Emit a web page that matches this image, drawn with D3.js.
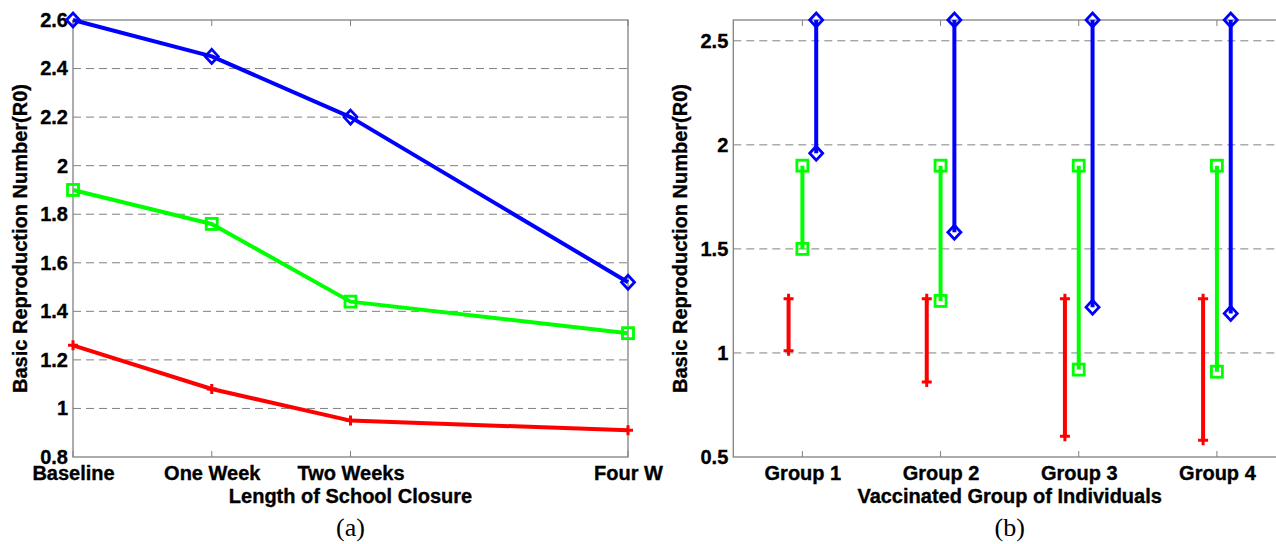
<!DOCTYPE html>
<html>
<head>
<meta charset="utf-8">
<script src="https://cdn.jsdelivr.net/npm/d3@7"></script>
<style>
  html, body { margin: 0; padding: 0; background: #fff; }
  svg { display: block; }
  .tick text, .title { font-family: "Liberation Sans", Arial, sans-serif; font-weight: bold; font-size: 20px; fill: #000; stroke: #000; stroke-width: 0.35px; }
  .caption { font-family: "Liberation Serif", "Times New Roman", serif; font-size: 26px; fill: #000; }
</style>
</head>
<body>
<div class="chart"></div>
<script>
// panel (a): school closure
const closureLabels = ['Baseline', 'One Week', 'Two Weeks', 'Four W']
const closureWeeks = [0, 1, 2, 4]
const closureBlue = [2.6, 2.45, 2.2, 1.52]
const closureGreen = [1.9, 1.76, 1.44, 1.31]
const closureRed = [1.26, 1.08, 0.95, 0.91]
const closureTicks = [0.8, 1, 1.2, 1.4, 1.6, 1.8, 2, 2.2, 2.4, 2.6]

// panel (b): vaccinated groups, ranges low..high
const groups = ['Group 1', 'Group 2', 'Group 3', 'Group 4']
const redHigh = [1.26, 1.26, 1.26, 1.26]
const redLow = [1.01, 0.86, 0.60, 0.58]
const greenHigh = [1.9, 1.9, 1.9, 1.9]
const greenLow = [1.5, 1.25, 0.92, 0.91]
const blueHigh = [2.6, 2.6, 2.6, 2.6]
const blueLow = [1.96, 1.58, 1.22, 1.19]
const groupTicks = [0.5, 1, 1.5, 2, 2.5]

const W = 1276, H = 544
const plotTop = 20, plotBottom = 457
const frameColor = '#808080'

const svg = d3.select('.chart').append('svg')
  .attr('width', W).attr('height', H)

function marker (g, type, color, px, py) {
  if (type === 'diamond') {
    g.append('path')
      .attr('d', `M${px},${py - 7}L${px + 6.5},${py}L${px},${py + 7}L${px - 6.5},${py}Z`)
      .attr('fill', 'none').attr('stroke', color).attr('stroke-width', 2.8)
  } else if (type === 'square') {
    g.append('rect')
      .attr('x', px - 5.5).attr('y', py - 5.5).attr('width', 11).attr('height', 11)
      .attr('fill', 'none').attr('stroke', color).attr('stroke-width', 2.8)
  } else {
    g.append('path')
      .attr('d', `M${px - 5},${py}H${px + 5}M${px},${py - 5}V${py + 5}`)
      .attr('stroke', color).attr('stroke-width', 3)
  }
}

function frame (g, x0, x1, y, ticks, xs, xTickVals, xFormat, yFormat, ylabel, xlabel, caption, ylabelX) {
  const gridVals = ticks.filter(t => t > y.domain()[0] && t < y.domain()[1])
  g.append('g').selectAll('line').data(gridVals).enter().append('line')
    .attr('x1', x0).attr('x2', x1)
    .attr('y1', d => y(d)).attr('y2', d => y(d))
    .attr('stroke', frameColor).attr('stroke-width', 1).attr('stroke-dasharray', '8,5')

  g.append('rect')
    .attr('x', x0).attr('y', plotTop).attr('width', x1 - x0).attr('height', plotBottom - plotTop)
    .attr('fill', 'none').attr('stroke', frameColor).attr('stroke-width', 1.3)

  // inward ticks top and bottom
  const tk = g.append('g')
  xTickVals.forEach(v => {
    tk.append('line').attr('x1', xs(v)).attr('x2', xs(v)).attr('y1', plotBottom).attr('y2', plotBottom - 6)
      .attr('stroke', frameColor).attr('stroke-width', 1)
    tk.append('line').attr('x1', xs(v)).attr('x2', xs(v)).attr('y1', plotTop).attr('y2', plotTop + 6)
      .attr('stroke', frameColor).attr('stroke-width', 1)
  })

  const yax = g.append('g').attr('transform', `translate(${x0},0)`)
    .call(d3.axisLeft(y).tickValues(ticks).tickSize(0).tickPadding(5).tickFormat(yFormat))
  yax.select('.domain').remove()

  const xax = g.append('g').attr('transform', `translate(0,${plotBottom})`)
    .call(d3.axisBottom(xs).tickValues(xTickVals).tickSize(0).tickPadding(9).tickFormat(xFormat))
  xax.select('.domain').remove()

  g.append('text').attr('class', 'title')
    .attr('transform', `translate(${ylabelX},${(plotTop + plotBottom) / 2}) rotate(-90)`)
    .attr('text-anchor', 'middle').text(ylabel)
  g.append('text').attr('class', 'title')
    .attr('x', (x0 + x1) / 2).attr('y', 503)
    .attr('text-anchor', 'middle').text(xlabel)
  g.append('text').attr('class', 'caption')
    .attr('x', (x0 + x1) / 2).attr('y', 536)
    .attr('text-anchor', 'middle').text(caption)
}

// ---- panel (a)
const ax0 = 73, ax1 = 628
const xa = d3.scaleLinear().domain([0, 4]).range([ax0, ax1])
const ya = d3.scaleLinear().domain([0.8, 2.6]).range([plotBottom, plotTop])
const ga = svg.append('g')
frame(ga, ax0, ax1, ya, closureTicks, xa, closureWeeks,
  (d, i) => closureLabels[i], d => String(+d.toFixed(1)),
  'Basic Reproduction Number(R0)', 'Length of School Closure', '(a)', 27)

const lineA = d3.line().x((d, i) => xa(closureWeeks[i])).y(d => ya(d))
const seriesA = [
  { vals: closureRed, color: '#ff0000', m: 'plus' },
  { vals: closureGreen, color: '#00ff00', m: 'square' },
  { vals: closureBlue, color: '#0000ff', m: 'diamond' }
]
seriesA.forEach(s => {
  ga.append('path').datum(s.vals).attr('d', lineA)
    .attr('fill', 'none').attr('stroke', s.color).attr('stroke-width', 4)
    .attr('stroke-linejoin', 'round')
  s.vals.forEach((v, i) => marker(ga, s.m, s.color, xa(closureWeeks[i]), ya(v)))
})

// ---- panel (b)
const bx0 = 733.3, bx1 = 1286
const groupIdx = [1, 2, 3, 4]
const xb = d3.scaleLinear().domain([0.5, 4.5]).range([bx0, bx1])
const yb = d3.scaleLinear().domain([0.5, 2.6]).range([plotBottom, plotTop])
const gb = svg.append('g')
frame(gb, bx0, bx1, yb, groupTicks, xb, groupIdx,
  (d, i) => groups[i], d => String(d),
  'Basic Reproduction Number(R0)', 'Vaccinated Group of Individuals', '(b)', 687)

const seriesB = [
  { low: redLow, high: redHigh, off: -0.1, color: '#ff0000', m: 'plus' },
  { low: greenLow, high: greenHigh, off: 0, color: '#00ff00', m: 'square' },
  { low: blueLow, high: blueHigh, off: 0.1, color: '#0000ff', m: 'diamond' }
]
seriesB.forEach(s => {
  groupIdx.forEach((gi, i) => {
    const px = xb(gi + s.off)
    gb.append('line')
      .attr('x1', px).attr('x2', px)
      .attr('y1', yb(s.low[i])).attr('y2', yb(s.high[i]))
      .attr('stroke', s.color).attr('stroke-width', 4)
    marker(gb, s.m, s.color, px, yb(s.high[i]))
    marker(gb, s.m, s.color, px, yb(s.low[i]))
  })
})
</script>
</body>
</html>
